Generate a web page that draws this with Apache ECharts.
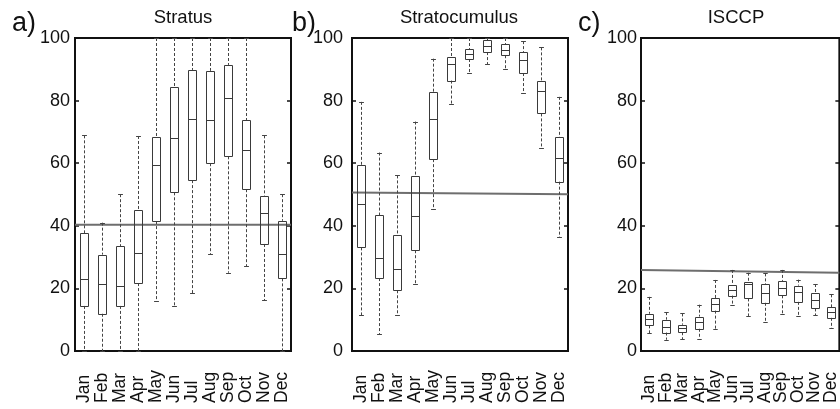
<!DOCTYPE html>
<html>
<head>
<meta charset="utf-8">
<script src="https://cdn.jsdelivr.net/npm/echarts@6/dist/echarts.min.js"></script>
<style>
html,body{margin:0;padding:0;background:#fff;}
#chart{width:840px;height:409px;}
</style>
</head>
<body>
<div id="chart"></div>
<script>
// ---- data ----
const months = ['Jan','Feb','Mar','Apr','May','Jun','Jul','Aug','Sep','Oct','Nov','Dec'];
const yTicks = [0, 20, 40, 60, 80, 100];

const stratusLow    = [0, 0, 0, 0, 16.1, 14.5, 18.4, 30.9, 25.0, 27.0, 16.2, 0];
const stratusQ1     = [14.4, 11.9, 14.4, 21.7, 41.5, 50.7, 54.6, 60.0, 62.2, 51.7, 34.2, 23.2];
const stratusMedian = [23.0, 21.4, 20.8, 31.3, 59.4, 68.1, 74.0, 73.7, 80.7, 64.2, 44.1, 31.0];
const stratusQ3     = [37.6, 30.8, 33.4, 45.0, 68.5, 84.2, 89.8, 89.5, 91.4, 73.8, 49.6, 41.6];
const stratusHigh   = [68.9, 41.0, 50.1, 68.7, 100, 100, 100, 100, 100, 100, 68.9, 50.1];
const stratusRef    = [40.3, 40.3];

const scLow    = [11.5, 5.4, 11.5, 21.3, 45.3, 79.0, 88.9, 91.6, 90.0, 82.4, 65.0, 36.3];
const scQ1     = [33.1, 23.3, 19.4, 32.2, 61.3, 86.4, 93.3, 95.5, 94.5, 88.8, 75.9, 54.1];
const scMedian = [47.0, 29.6, 26.2, 43.2, 74.0, 91.6, 94.9, 97.6, 96.1, 92.9, 83.1, 61.6];
const scQ3     = [59.5, 43.3, 37.2, 55.9, 82.6, 94.0, 96.5, 99.3, 98.1, 95.4, 86.2, 68.3];
const scHigh   = [79.6, 63.4, 56.1, 73.3, 93.4, 100, 100, 100, 100, 99.0, 97.0, 81.2];
const scRef    = [50.6, 50.1];

const isccpLow    = [5.6, 3.6, 3.7, 3.9, 7.1, 14.6, 11.2, 9.2, 11.8, 11.3, 11.5, 7.2];
const isccpQ1     = [8.2, 5.9, 6.0, 7.1, 12.9, 17.7, 16.8, 15.4, 17.8, 15.7, 13.6, 10.6];
const isccpMedian = [10.1, 7.7, 7.2, 9.3, 14.9, 19.5, 21.5, 18.6, 20.2, 19.0, 16.2, 12.4];
const isccpQ3     = [11.9, 10.0, 8.4, 11.0, 16.8, 21.2, 21.9, 21.4, 22.4, 20.9, 18.6, 14.0];
const isccpHigh   = [17.3, 12.4, 12.0, 14.8, 22.7, 25.9, 25.0, 24.8, 25.9, 22.8, 21.4, 18.1];
const isccpRef    = [25.9, 25.0];

const panelTitles = ['Stratus', 'Stratocumulus', 'ISCCP'];
const panelLetters = ['a)', 'b)', 'c)'];

// ---- layout ----
const FONT = '"Liberation Sans", Arial, Helvetica, sans-serif';
const grids = [
  {left: 75, top: 38, width: 216, height: 313},
  {left: 352, top: 38, width: 216, height: 313},
  {left: 641, top: 38, width: 200.6, height: 313}
];
const labelMargins = [5, 9, 4];
const titleCenters = [183, 459, 736];
const letterX = [12, 292, 578];

function buildRows(lo, q1, md, q3, hi) {
  return months.map((m, i) => [i, lo[i], q1[i], md[i], q3[i], hi[i]]);
}
const boxData = [
  buildRows(stratusLow, stratusQ1, stratusMedian, stratusQ3, stratusHigh),
  buildRows(scLow, scQ1, scMedian, scQ3, scHigh),
  buildRows(isccpLow, isccpQ1, isccpMedian, isccpQ3, isccpHigh)
];
const refData = [stratusRef, scRef, isccpRef];

function renderBox(params, api) {
  const i = api.value(0);
  const lo = api.coord([i, api.value(1)]);
  const q1 = api.coord([i, api.value(2)]);
  const md = api.coord([i, api.value(3)]);
  const q3 = api.coord([i, api.value(4)]);
  const hi = api.coord([i, api.value(5)]);
  const band = api.size([1, 0])[0];
  const bw = band * 0.5;
  const cw = band * 0.27;
  const cx = Math.round(lo[0]) + 0.5;
  const dashStyle = {stroke: '#444', lineWidth: 1, lineDash: [3, 2], fill: null};
  const solid = {stroke: '#3a3a3a', lineWidth: 1, fill: null};
  const capStyle = {stroke: '#444', lineWidth: 1, fill: null};
  const r = v => Math.round(v) + 0.5;
  const left = Math.round(cx - bw / 2) + 0.5;
  const right = Math.round(cx + bw / 2) - 0.5;
  const children = [];
  if (hi[1] < q3[1] - 0.5) {
    children.push({type: 'line', shape: {x1: cx, y1: hi[1], x2: cx, y2: q3[1]}, style: dashStyle});
    children.push({type: 'line', shape: {x1: cx - cw / 2, y1: r(hi[1]), x2: cx + cw / 2, y2: r(hi[1])}, style: capStyle});
  }
  if (lo[1] > q1[1] + 0.5) {
    children.push({type: 'line', shape: {x1: cx, y1: q1[1], x2: cx, y2: lo[1]}, style: dashStyle});
    children.push({type: 'line', shape: {x1: cx - cw / 2, y1: r(lo[1]), x2: cx + cw / 2, y2: r(lo[1])}, style: capStyle});
  }
  children.push({type: 'rect', shape: {x: left, y: r(q3[1]), width: right - left, height: r(q1[1]) - r(q3[1])}, style: solid});
  children.push({type: 'line', shape: {x1: left, y1: r(md[1]), x2: right, y2: r(md[1])}, style: solid});
  return {type: 'group', children: children};
}

const option = {
  backgroundColor: '#fff',
  animation: false,
  grid: grids.map(g => Object.assign({show: true, borderColor: '#111', borderWidth: 2, backgroundColor: 'transparent', containLabel: false}, g)),
  xAxis: [],
  yAxis: [],
  series: [],
  graphic: []
};

for (let p = 0; p < 3; p++) {
  option.xAxis.push({
    type: 'category', gridIndex: p, data: months, boundaryGap: true,
    axisLine: {show: false}, axisTick: {show: false}, splitLine: {show: false},
    axisLabel: {interval: 0, rotate: 90, align: 'left', verticalAlign: 'middle', margin: 52,
      fontFamily: FONT, fontSize: 17.5, color: '#111'}
  });
  option.xAxis.push({type: 'value', gridIndex: p, min: 0, max: 1, show: false});
  option.yAxis.push({
    type: 'value', gridIndex: p, min: yTicks[0], max: yTicks[yTicks.length - 1], interval: 20, position: 'left',
    axisLine: {show: false}, splitLine: {show: false},
    axisTick: {show: true, inside: true, length: 4, lineStyle: {color: '#111', width: 1.5}},
    axisLabel: {margin: labelMargins[p], fontFamily: FONT, fontSize: 18, color: '#111'}
  });
  option.yAxis.push({
    type: 'value', gridIndex: p, min: yTicks[0], max: yTicks[yTicks.length - 1], interval: 20, position: 'right',
    axisLine: {show: false}, splitLine: {show: false},
    axisTick: {show: true, inside: true, length: 4, lineStyle: {color: '#111', width: 1.5}},
    axisLabel: {show: false}
  });
  option.series.push({
    type: 'line', xAxisIndex: 2 * p + 1, yAxisIndex: 2 * p, symbol: 'none', silent: true,
    data: [[0, refData[p][0]], [1, refData[p][1]]],
    lineStyle: {color: '#6e6e6e', width: 2}, z: 3
  });
  option.series.push({
    type: 'custom', xAxisIndex: 2 * p, yAxisIndex: 2 * p, renderItem: renderBox,
    data: boxData[p], z: 4, clip: false
  });
  option.graphic.push({
    type: 'text', x: titleCenters[p], y: 17.5, z: 10,
    style: {text: panelTitles[p], font: '18.5px ' + FONT, fill: '#111', align: 'center', verticalAlign: 'middle'}
  });
  option.graphic.push({
    type: 'text', x: letterX[p], y: 10, z: 10,
    style: {text: panelLetters[p], font: '27px ' + FONT, fill: '#111', align: 'left', verticalAlign: 'top'}
  });
}

const chart = echarts.init(document.getElementById('chart'), null, {renderer: 'canvas'});
chart.setOption(option);
</script>
</body>
</html>
